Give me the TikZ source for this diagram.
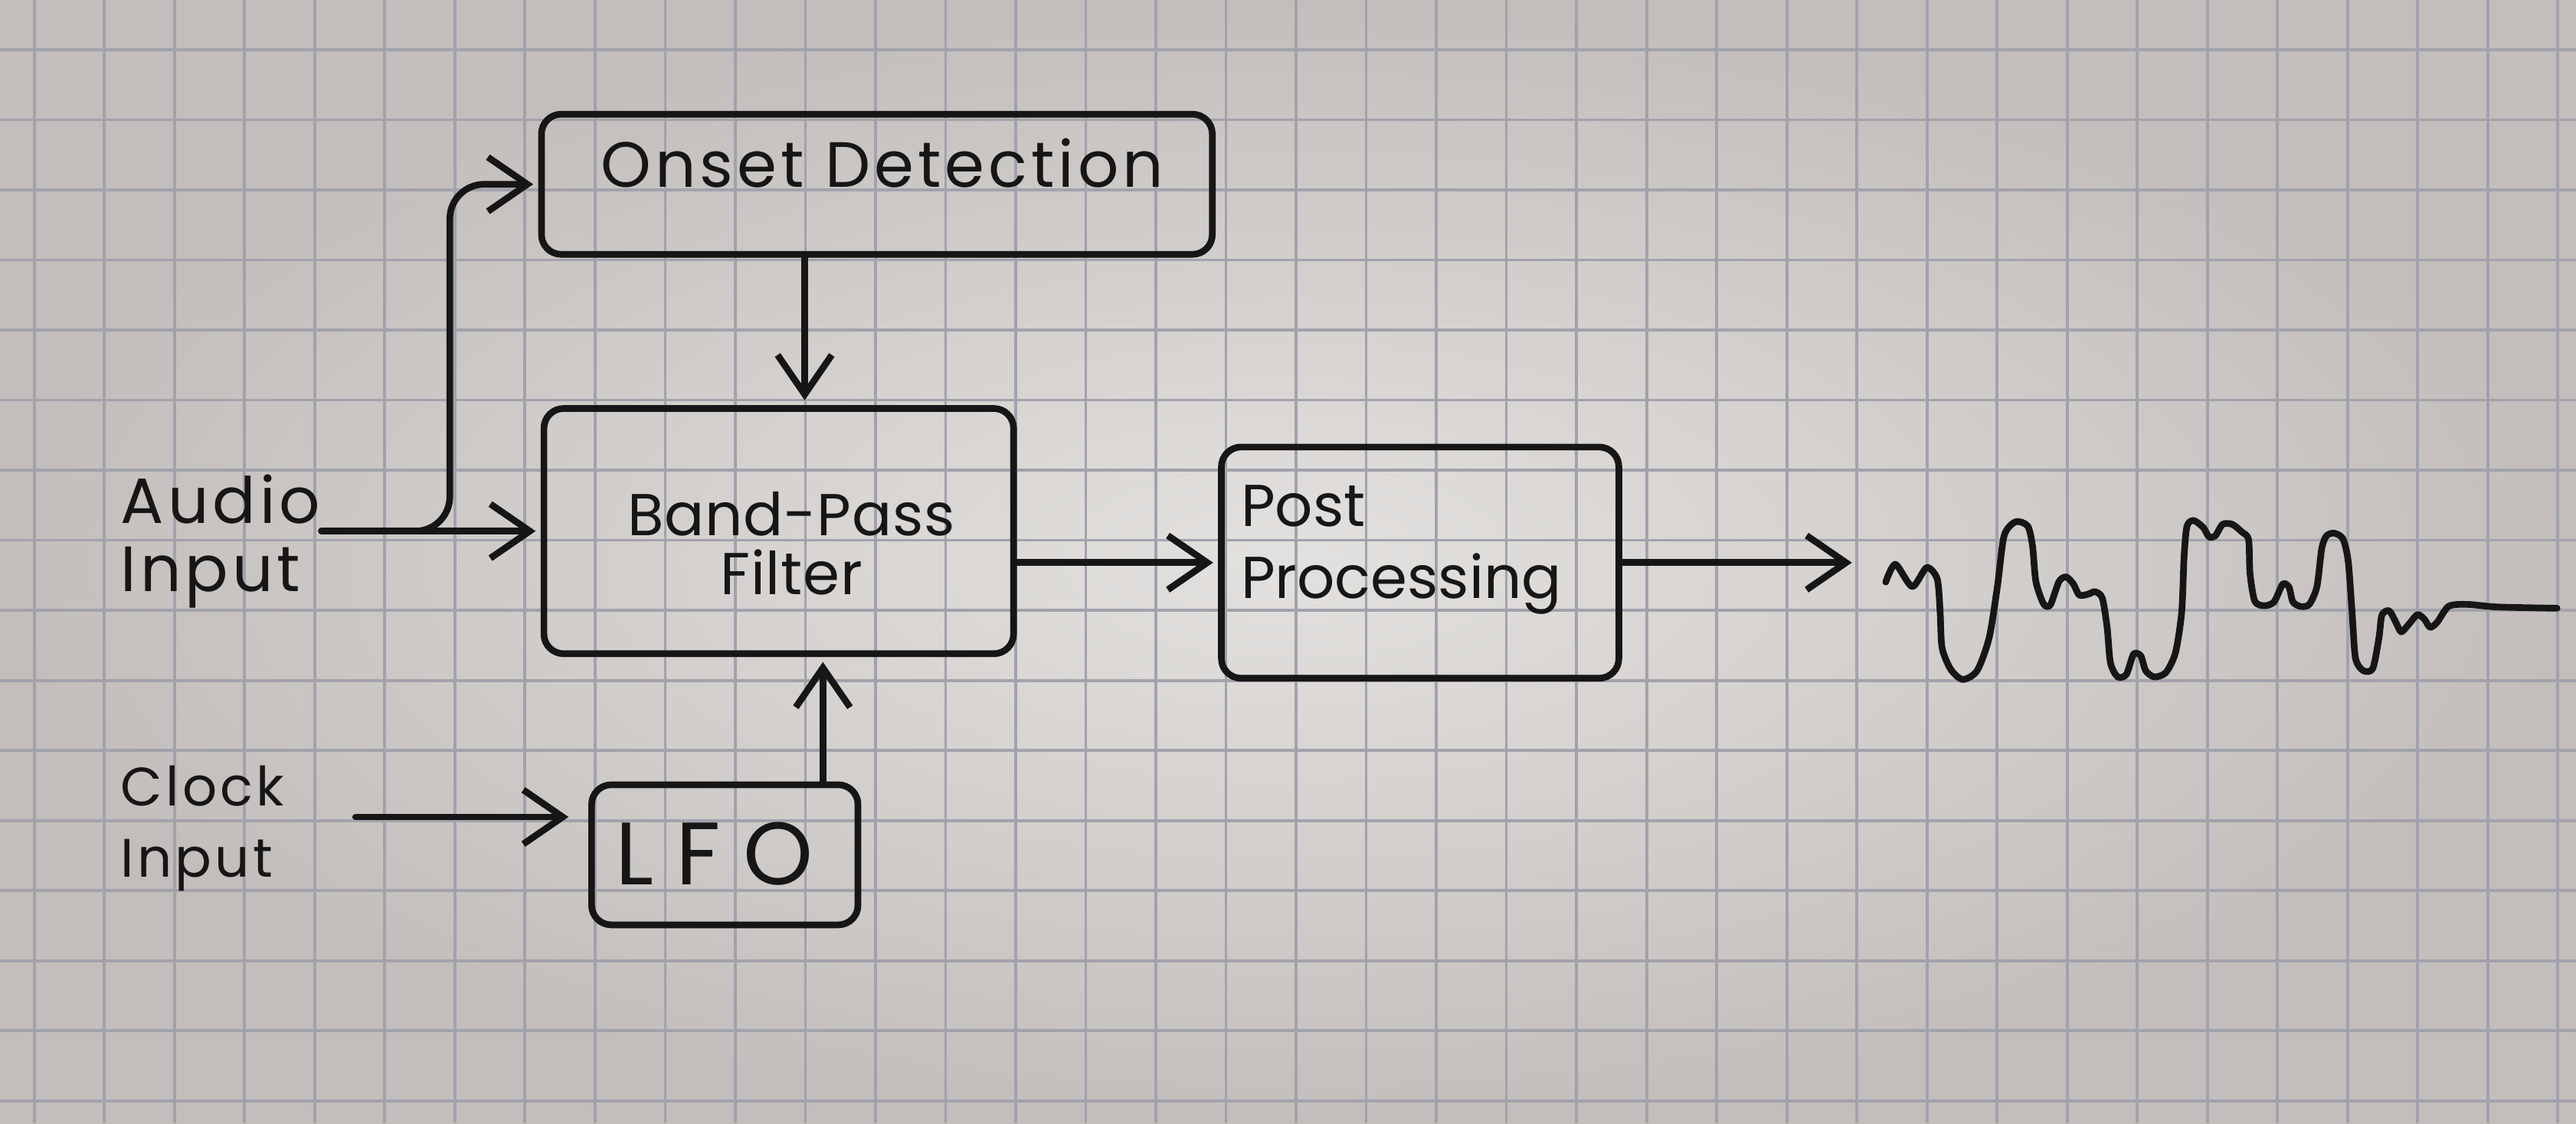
\documentclass[tikz,border=0pt]{standalone}
\usepackage{fontspec}
\setmainfont[LetterSpace=6]{Poppins}
\usetikzlibrary{arrows.meta,calc}
\definecolor{paperin}{HTML}{E3E1DF}
\definecolor{paperout}{HTML}{C3BEBB}
\definecolor{gridc}{HTML}{A2A2AD}
\definecolor{ink}{HTML}{161616}
\begin{document}
\begin{tikzpicture}[x=0.5cm,y=0.5cm,
    gridline/.style={gridc,line width=0.6pt},
    pen/.style={ink,line width=1.35pt,line cap=round,line join=round},
    box/.style={draw=ink,line width=1.35pt,rounded corners=4pt,inner sep=0pt},
    lbl/.style={text=ink,inner sep=0pt,font=\fontsize{13}{14}\selectfont},
    arr/.style={pen,-{Straight Barb[length=8pt,width=11pt]},shorten >=1pt}]
  \useasboundingbox (-0.49,0.71) rectangle (36.26,-15.323);
  % paper and grid
  \shade[inner color=paperin,outer color=paperout] (-0.49,0.71) rectangle (36.26,-15.323);
  \foreach \i in {0,...,36}
    \draw[gridline] (\i,0.71) -- (\i,-15.323);
  \foreach \j in {0,...,15}
    \draw[gridline] (-0.49,-\j) -- (36.26,-\j);
  % blocks
  \node[box,minimum width=4.785cm,minimum height=1cm] (onset) at (12.02,-1.92) {};
  \node[lbl] (onsetlbl) at (12.1,-1.62) {Onset Detection};
  \node[box,minimum width=3.35cm,minimum height=1.75cm] (bpf) at (10.62,-6.87) {};
  \node[lbl,align=center,font=\fontsize{12}{12}\selectfont\addfontfeature{LetterSpace=1}] (bpflbl) at (10.8,-7.05) {Band-Pass\\Filter};
  \node[box,minimum width=2.835cm,minimum height=1.65cm] (post) at (19.77,-7.32) {};
  \node[lbl,align=left,anchor=north west,font=\fontsize{12}{14.6}\selectfont\addfontfeature{LetterSpace=0}] (postlbl) at (17.2,-6.2) {Post\\Processing};
  \node[box,minimum width=1.9cm,minimum height=1cm] (lfo) at (9.85,-11.49) {};
  \node[lbl,font=\fontsize{18}{18}\selectfont\addfontfeature{LetterSpace=25}] (lfolbl) at (9.7,-11.48) {LFO};
  % inputs
  \node[lbl,align=left,anchor=north west,font=\fontsize{13}{13.8}\selectfont] (audio) at (1.22,-6.05) {Audio\\Input};
  \node[lbl,align=left,anchor=north west,font=\fontsize{11}{14.6}\selectfont] (clock) at (1.22,-10.2) {Clock\\Input};
  % connectors
  \draw[arr] (audio.east |- bpf.west) -- (bpf.west);
  \draw[arr,rounded corners=7pt] (audio.east |- bpf.west) -| ([xshift=-0.63cm]onset.west) -- (onset.west);
  \draw[arr] ([xshift=0.185cm]bpf.north |- onset.south) -- ([xshift=0.185cm]bpf.north);
  \draw[arr] ([xshift=0.7cm]lfo.north) -- ([xshift=0.7cm]lfo.north |- bpf.south);
  \coordinate (lfoin) at ([yshift=0.27cm]lfo.west);
  \draw[arr,shorten >=4pt] ([xshift=0.5cm]clock.east |- lfoin) -- (lfoin);
  \draw[arr] (bpf.east |- post.west) -- (post.west);
  \coordinate (wave) at (26.0,-7.32);
  \draw[arr] (post.east) -- (wave);
  % output signal
  \begin{scope}[shift={(25.52,-5.847)},x=0.0034265cm,y=-0.0018215cm]
    \draw[pen] plot[smooth,tension=0.45] coordinates {
      (130,482) (150,412) (185,500) (215,425) (237,470) (243,600) (247,740)
      (265,825) (290,865) (320,830) (345,700) (362,500) (376,300) (400,245)
      (425,262) (435,340) (442,480) (458,568) (472,572) (490,480) (505,462)
      (520,490) (532,533) (550,530) (565,520) (580,545) (590,660) (597,800)
      (612,855) (630,845) (645,765) (660,772) (670,830) (688,855) (712,838)
      (732,760) (745,600) (750,380) (756,262) (770,240) (790,268) (802,305)
      (815,300) (830,255) (850,255) (870,285) (884,315) (887,450) (897,558)
      (917,575) (937,560) (955,490) (968,502) (976,560) (992,578) (1010,570)
      (1026,500) (1036,350) (1046,300) (1062,290) (1080,312) (1091,400)
      (1099,600) (1106,780) (1122,830) (1142,822) (1155,700) (1161,612)
      (1176,595) (1190,640) (1201,678) (1216,650) (1235,610) (1250,630)
      (1261,660) (1276,640) (1300,577) (1340,570) (1400,580) (1525,585)};
  \end{scope}
\end{tikzpicture}
\end{document}
